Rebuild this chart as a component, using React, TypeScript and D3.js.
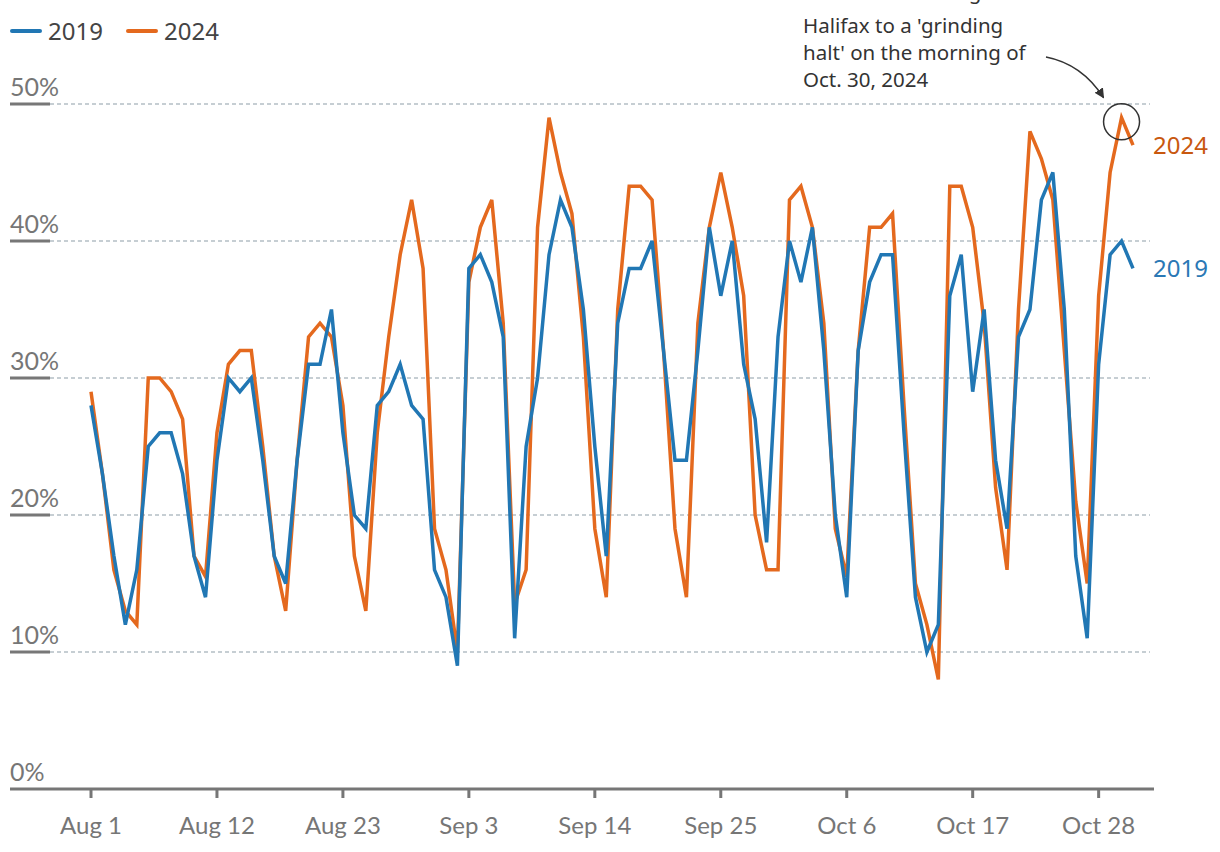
import React from 'react';
import * as d3 from 'd3';

const startDate = new Date(2024, 7, 1);
const dayCount = 92;

const values2019 = [
  28, 23, 17, 12, 16, 25, 26, 26, 23, 17,
  14, 24, 30, 29, 30, 24, 17, 15, 24, 31,
  31, 35, 26, 20, 19, 28, 29, 31, 28, 27,
  16, 14, 9, 38, 39, 37, 33, 11, 25, 30,
  39, 43, 41, 35, 25, 17, 34, 38, 38, 40,
  32, 24, 24, 32, 41, 36, 40, 31, 27, 18,
  33, 40, 37, 41, 32, 20, 14, 32, 37, 39,
  39, 26, 14, 10, 12, 36, 39, 29, 35, 24,
  19, 33, 35, 43, 45, 35, 17, 11, 31, 39,
  40, 38,
];

const values2024 = [
  29, 23, 16, 13, 12, 30, 30, 29, 27, 17,
  15.5, 26, 31, 32, 32, 25, 17, 13, 24, 33,
  34, 33, 28, 17, 13, 26, 33, 39, 43, 38,
  19, 16, 10, 37, 41, 43, 34, 13.5, 16, 41,
  49, 45, 42, 33, 19, 14, 35, 44, 44, 43,
  32, 19, 14, 34, 41, 45, 41, 36, 20, 16,
  16, 43, 44, 41, 34, 19, 15.5, 32, 41, 41,
  42, 28, 15, 12, 8, 44, 44, 41, 34, 22,
  16, 35, 48, 46, 43, 32, 21, 15, 36, 45,
  49, 47,
];

const yTickValues = [0, 10, 20, 30, 40, 50];
const xTickDayOffsets = [0, 11, 22, 33, 44, 55, 66, 77, 88];
const seriesLabels = ['2019', '2024'];
const seriesColors = ['#2177b4', '#e4691e'];
const endLabelColors = ['#2a78b5', '#c8580f'];
const annotationLines = [
  'A crash that brought',
  "Halifax to a 'grinding",
  "halt' on the morning of",
  'Oct. 30, 2024',
];
const highlightDayOffset = 90;

const W = 1220;
const H = 852;

export default function App() {
  const dates = d3.range(dayCount).map((i) => d3.timeDay.offset(startDate, i));
  const x = d3
    .scaleTime()
    .domain([startDate, d3.timeDay.offset(startDate, dayCount - 1)])
    .range([91, 1133]);
  const y = d3.scaleLinear().domain([0, 50]).range([789, 104]);

  const line = d3
    .line<number>()
    .x((_, i) => x(dates[i]))
    .y((d) => y(d));

  const fmt = d3.timeFormat('%b %-d');
  const xTicks = xTickDayOffsets.map((o) => d3.timeDay.offset(startDate, o));
  const series = [values2019, values2024];

  const hx = x(d3.timeDay.offset(startDate, highlightDayOffset));
  const hy = y(values2024[highlightDayOffset]);

  const labelFont = 'Lato, "Noto Sans", sans-serif';
  const textFont = '"Noto Sans", "Open Sans", sans-serif';

  return (
    <div style={{ position: 'absolute', left: 0, top: 0 }}>
      <svg width={W} height={H} style={{ display: 'block', background: '#fff' }}>
        <defs>
          <marker
            id="arrowhead"
            viewBox="0 0 10 10"
            refX="9"
            refY="5"
            markerWidth="10"
            markerHeight="10"
            orient="auto"
            markerUnits="userSpaceOnUse"
          >
            <path d="M0,0 L10,5 L0,10 Z" fill="#333" />
          </marker>
        </defs>

        {/* gridlines & y labels */}
        {yTickValues.map((v) => (
          <g key={v}>
            {v > 0 && (
              <>
                <line
                  x1={50}
                  x2={1150}
                  y1={y(v)}
                  y2={y(v)}
                  stroke="#b4bec5"
                  strokeWidth={1.5}
                  strokeDasharray="4,3"
                />
                <line x1={10} x2={50} y1={y(v)} y2={y(v)} stroke="#777" strokeWidth={3} />
              </>
            )}
            <text
              x={10}
              y={y(v) - 8}
              fontFamily={labelFont}
              fontSize={25}
              fill="#767676"
            >
              {v}%
            </text>
          </g>
        ))}

        {/* x axis */}
        <line x1={10} x2={1154} y1={y(0)} y2={y(0)} stroke="#767676" strokeWidth={3} />
        {xTicks.map((d, i) => (
          <g key={i} transform={`translate(${x(d)},0)`}>
            <line y1={y(0)} y2={y(0) + 9} stroke="#767676" strokeWidth={3} />
            <text
              y={834}
              textAnchor="middle"
              fontFamily={labelFont}
              fontSize={24}
              fill="#767676"
            >
              {fmt(d)}
            </text>
          </g>
        ))}

        {/* lines: 2024 below, 2019 on top */}
        {[1, 0].map((s) => (
          <path
            key={s}
            d={line(series[s]) || ''}
            fill="none"
            stroke={seriesColors[s]}
            strokeWidth={3.5}
          />
        ))}

        {/* end labels */}
        {series.map((vals, s) => (
          <text
            key={s}
            x={1153}
            y={y(vals[vals.length - 1]) + 9}
            fontFamily={textFont}
            fontSize={24}
            fill={endLabelColors[s]}
          >
            {seriesLabels[s]}
          </text>
        ))}

        {/* legend */}
        {seriesLabels.map((lab, i) => {
          const lx = i === 0 ? 12 : 128;
          return (
            <g key={lab}>
              <line
                x1={lx}
                x2={lx + 28}
                y1={31}
                y2={31}
                stroke={seriesColors[i]}
                strokeWidth={4}
                strokeLinecap="round"
              />
              <text x={lx + 36} y={40} fontFamily={textFont} fontSize={24} fill="#444">
                {lab}
              </text>
            </g>
          );
        })}

        {/* annotation (first line runs off the top, as in the source) */}
        {annotationLines.map((t, i) => (
          <text
            key={i}
            x={803}
            y={i === 0 ? -1 : 6 + i * 27}
            fontFamily={textFont}
            fontSize={20.5}
            fill="#333"
          >
            {t}
          </text>
        ))}
        <path
          d={`M1046,57 Q1082,64 ${hx - 18},${hy - 20}`}
          fill="none"
          stroke="#333"
          strokeWidth={1.5}
          markerEnd="url(#arrowhead)"
        />
        <circle cx={hx} cy={hy + 4} r={18} fill="none" stroke="#333" strokeWidth={1.5} />
      </svg>
    </div>
  );
}
